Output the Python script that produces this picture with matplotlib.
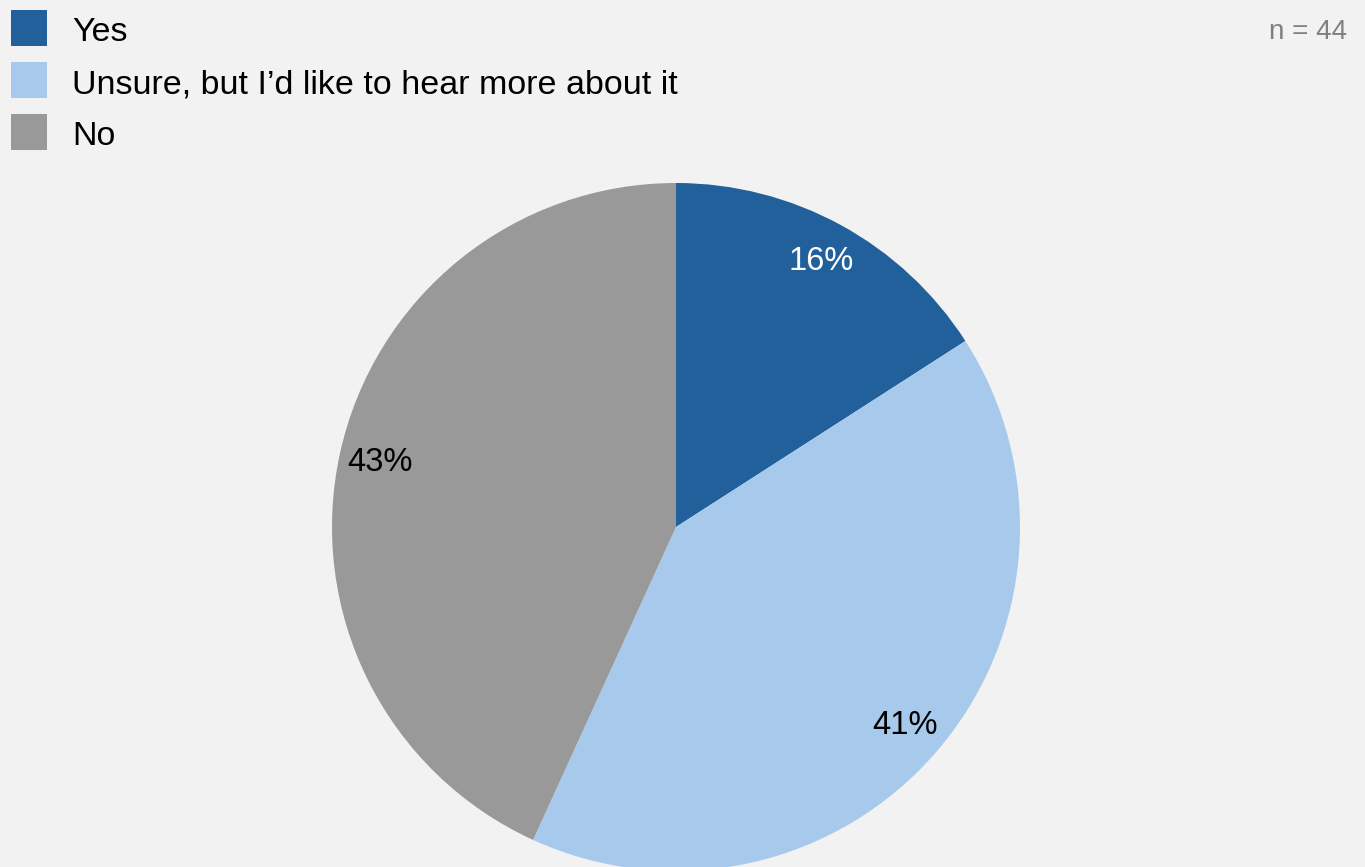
import matplotlib
matplotlib.use("Agg")
import matplotlib.pyplot as plt
from matplotlib.patches import Rectangle

# Respuestas de la encuesta (n = 44)
categorias = ["Yes", "Unsure, but I\u2019d like to hear more about it", "No"]
respuestas = [7, 18, 19]
colores = ["#21609B", "#A7CAEC", "#999999"]
colores_texto = ["white", "black", "black"]
n_total = sum(respuestas)

fondo = "#F2F2F2"
fig = plt.figure(figsize=(13.65, 8.67), dpi=100, facecolor=fondo)

# Eje del pastel: centro en (676, 527) px, radio 344 px
W, H = 1365, 867
cx, cy, r = 676, 527, 344
ax = fig.add_axes([(cx - r) / W, (H - cy - r) / H, 2 * r / W, 2 * r / H])
ax.set_facecolor(fondo)

wedges, textos, porcentajes = ax.pie(
    respuestas, colors=colores, startangle=90, counterclock=False,
    radius=1, autopct=lambda p: f"{p:.0f}%", pctdistance=0.88,
    wedgeprops=dict(linewidth=0),
    textprops=dict(fontsize=23.5, family=["Liberation Sans", "DejaVu Sans"]))
for t, c in zip(porcentajes, colores_texto):
    t.set_color(c)
ax.set_xlim(-1, 1)
ax.set_ylim(-1, 1)
ax.set_aspect("equal")
ax.axis("off")

# Leyenda dibujada a mano
fuente_leyenda = ["Liberation Sans Narrow", "Liberation Sans", "DejaVu Sans"]
for i, (cat, col) in enumerate(zip(categorias, colores)):
    yc = 28 + 52 * i
    fig.add_artist(Rectangle((11 / W, 1 - (yc + 18) / H), 36 / W, 36 / H,
                             transform=fig.transFigure, facecolor=col,
                             edgecolor="none"))
    fig.text(72 / W, 1 - (yc + 1) / H, cat, fontsize=24.5,
             family=fuente_leyenda, va="center_baseline", ha="left",
             color="black")

fig.text(1347 / W, 1 - 29 / H, f"n = {n_total}", fontsize=20,
         family=["Liberation Sans", "DejaVu Sans"], color="#808080",
         ha="right", va="center_baseline")

fig.savefig("out.png", dpi=100, facecolor=fondo)
